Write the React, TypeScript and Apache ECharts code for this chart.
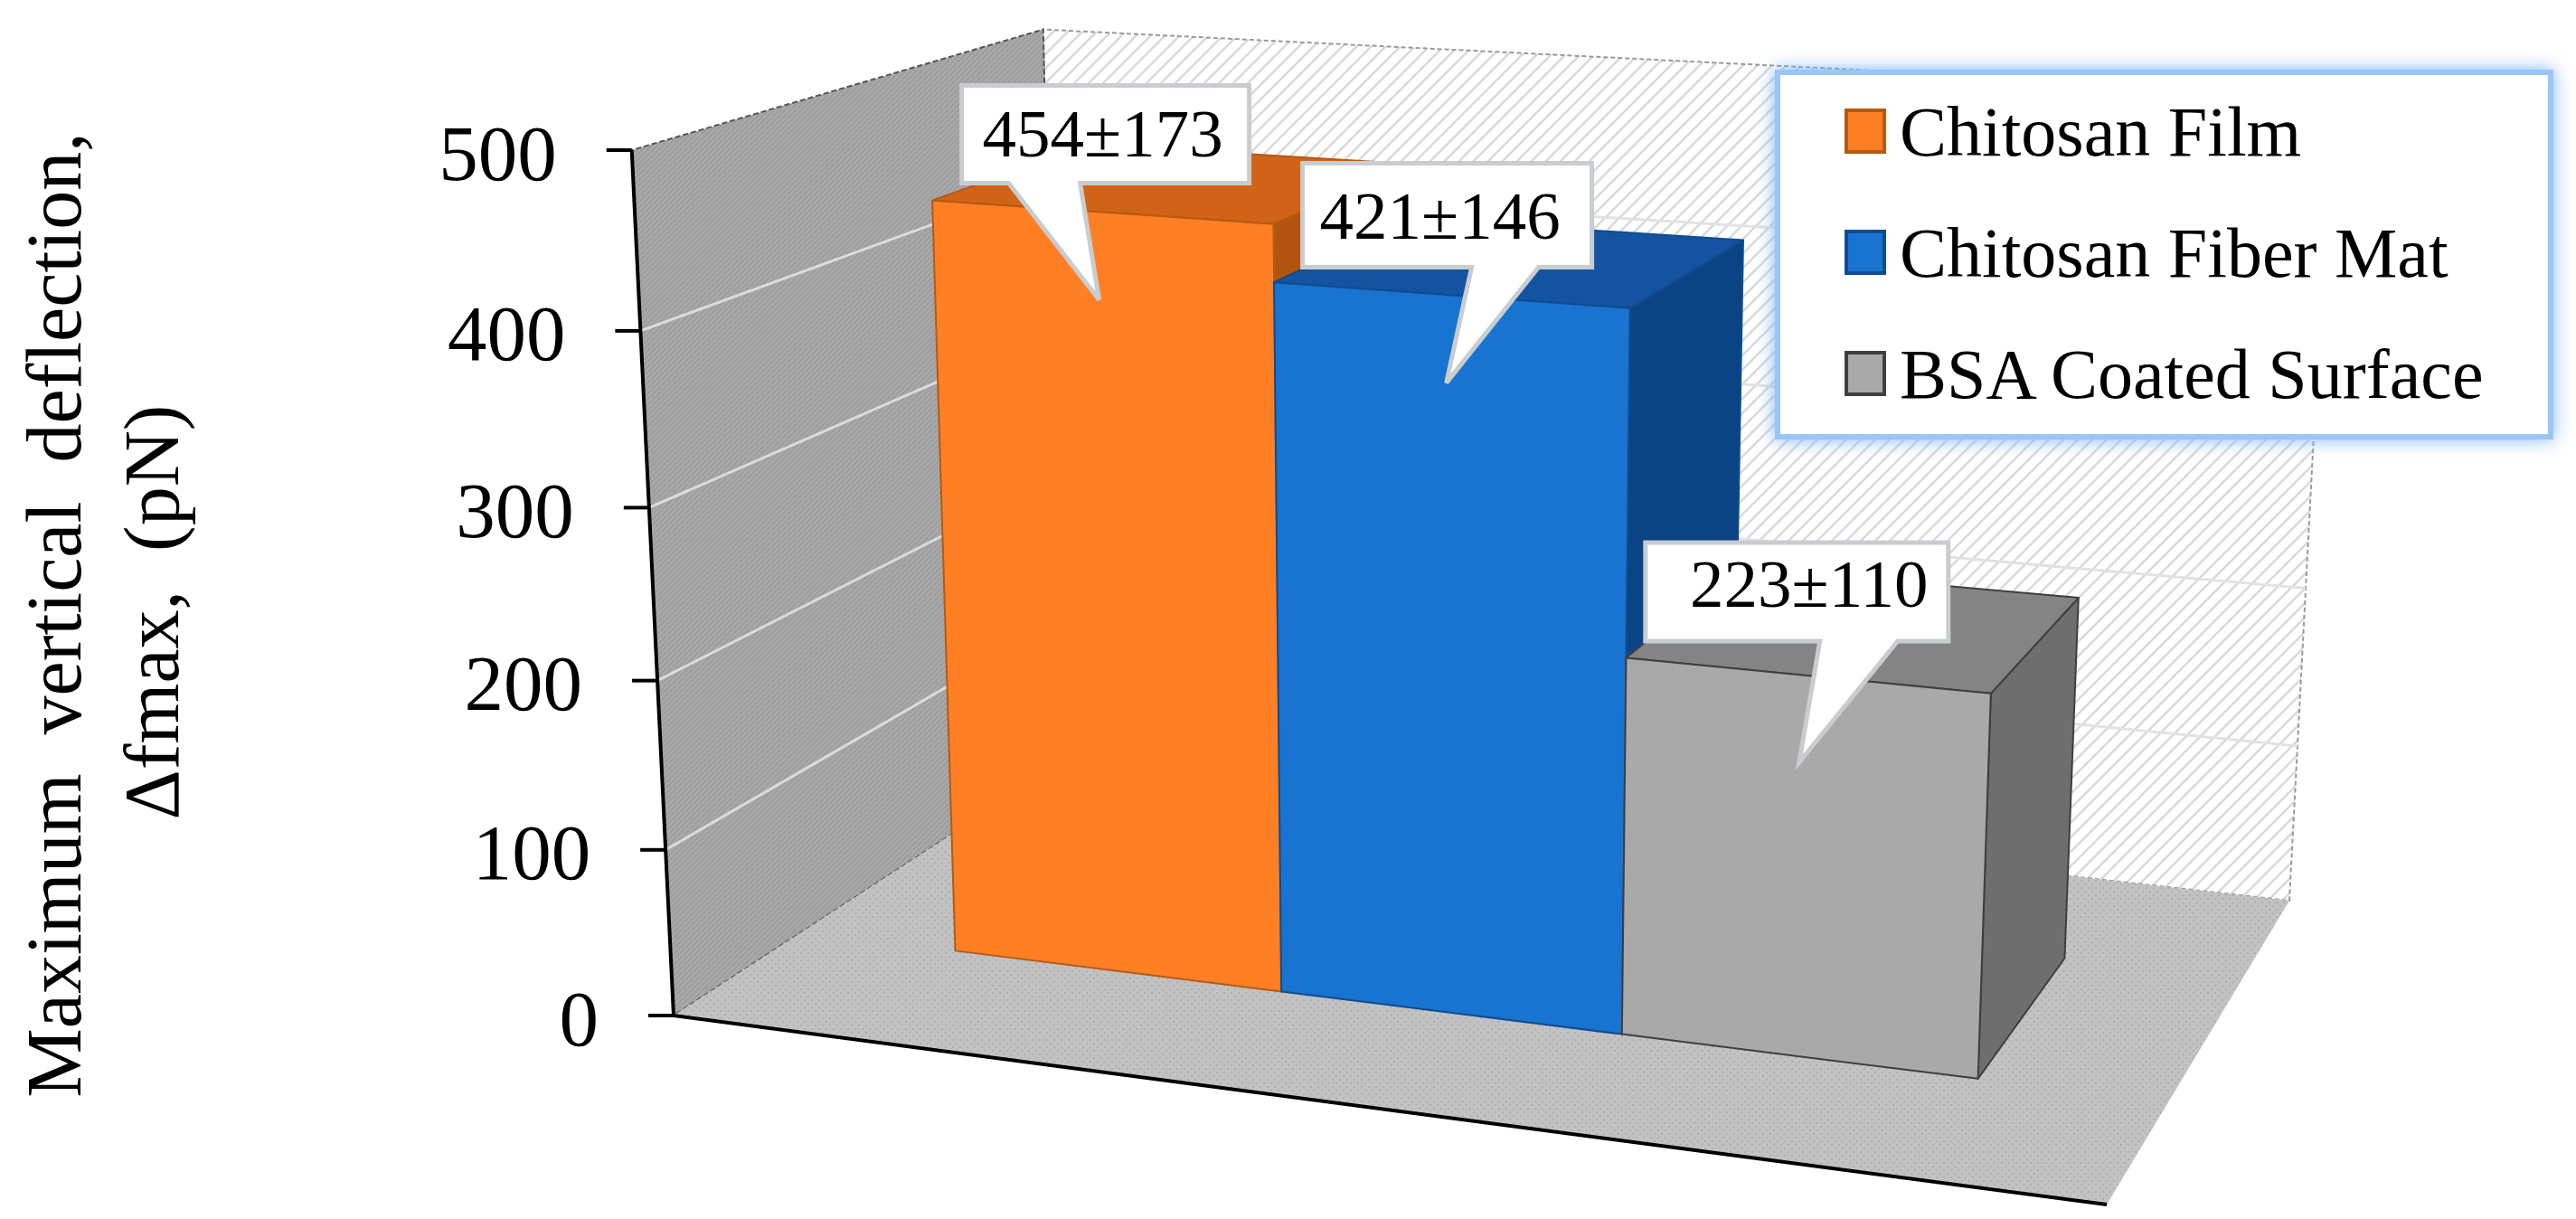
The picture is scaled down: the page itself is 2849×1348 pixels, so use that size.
import React, { useEffect, useRef } from "react";
import * as echarts from "echarts";

const seriesNames = ["Chitosan Film", "Chitosan Fiber Mat", "BSA Coated Surface"];
const meanValues = [454, 421, 223];
const errorValues = [173, 146, 110];
const yTicks = [0, 100, 200, 300, 400, 500];
const yTitleLines = ["Maximum\u00a0\u00a0vertical\u00a0\u00a0deflection,", "\u0394fmax,\u00a0\u00a0(pN)"];

const SERIF = "'Liberation Serif','Times New Roman',serif";
type P = [number, number];

// frame of the 3D box on the page (layout, not data)
const FLOOR: P[] = [[745, 1123], [2330, 1332], [2532, 996], [1173, 844]];
const FRONT_HEIGHT = 957;
const VANISH: P = [1600, 18800];
const DEPTH_FRONT = 0.297;
const DEPTH_BACK = 0.706;
const PERSP = 1.056;
const HEIGHT_TWEAK = 0.018;

function quad(c: P[]) {
  const [[x0, y0], [x1, y1], [x2, y2], [x3, y3]] = c;
  const dx1 = x1 - x2, dx2 = x3 - x2, sx = x0 - x1 + x2 - x3;
  const dy1 = y1 - y2, dy2 = y3 - y2, sy = y0 - y1 + y2 - y3;
  const det = dx1 * dy2 - dx2 * dy1;
  const g = (sx * dy2 - dx2 * sy) / det;
  const h = (dx1 * sy - sx * dy1) / det;
  const a = x1 - x0 + g * x1, b = x3 - x0 + h * x3;
  const d = y1 - y0 + g * y1, e = y3 - y0 + h * y3;
  return (u: number, w: number): [number, number, number] => {
    const q = g * u + h * w + 1;
    return [(a * u + b * w + x0) / q, (d * u + e * w + y0) / q, q];
  };
}
const floorAt = quad(FLOOR);
function project(u: number, v: number, w: number): P {
  const [fx, fy, q] = floorAt(u, w);
  const full = (FRONT_HEIGHT * (1 + HEIGHT_TWEAK * u * w)) / q;
  const t = v / (v + PERSP * (1 - v));
  const h = full * t;
  return [fx + ((fx - VANISH[0]) / (VANISH[1] - fy)) * h, fy - h];
}

function tile(size: number, draw: (c: CanvasRenderingContext2D) => void) {
  const cv = document.createElement("canvas");
  cv.width = size; cv.height = size;
  draw(cv.getContext("2d") as CanvasRenderingContext2D);
  return { image: cv, repeat: "repeat" } as any;
}

const barColors = [
  { front: "#ff7f24", top: "#d06318", side: "#b2540f", edge: "#b55a14" },
  { front: "#1874d0", top: "#14539f", side: "#0b4485", edge: "#0f4c91" },
  { front: "#a9a9a9", top: "#848484", side: "#6e6e6e", edge: "#3f3f3f" },
];

// callout layout, relative to the middle of the bar's front top edge
const calloutLayout = [
  { l: -154, r: 164, t: -140, b: -32, p0: -102, p1: -23, tx: 2, ty: -87, tipX: -2, tipY: 97 },
  { l: -163, r: 157, t: -146, b: -31, p0: 24, p1: 98, tx: -11, ty: -88, tipX: -4, tipY: 97 },
  { l: -178, r: 157, t: -147, b: -38, p0: 15, p1: 101, tx: 3, ty: -101, tipX: -8, tipY: 96 },
];

export default function App() {
  const ref = useRef<HTMLDivElement>(null);
  useEffect(() => {
    document.body.style.margin = "0";
    document.body.style.overflow = "hidden";
    const chart = echarts.init(ref.current as HTMLDivElement, undefined, { renderer: "svg" });

    const wallFill = tile(6, (c) => {
      c.fillStyle = "#a8a8a8"; c.fillRect(0, 0, 6, 6);
      c.strokeStyle = "#989898"; c.lineWidth = 1.2;
      c.beginPath(); c.moveTo(-1, 7); c.lineTo(7, -1); c.moveTo(-1, 1); c.lineTo(1, -1); c.moveTo(5, 7); c.lineTo(7, 5); c.stroke();
    });
    const floorFill = tile(8, (c) => {
      c.fillStyle = "#c2c2c2"; c.fillRect(0, 0, 8, 8);
      c.fillStyle = "#b0b0b0";
      c.fillRect(1, 1, 2, 2); c.fillRect(5, 5, 2, 2);
    });
    const backFill = tile(16, (c) => {
      c.fillStyle = "#ffffff"; c.fillRect(0, 0, 16, 16);
      c.strokeStyle = "#d8d8d8"; c.lineWidth = 2.4;
      c.beginPath(); c.moveTo(-2, 18); c.lineTo(18, -2); c.moveTo(-2, 2); c.lineTo(2, -2); c.moveTo(14, 18); c.lineTo(18, 14); c.stroke();
    });

    const unit = (api: any, params: any, x: number, y: number) => {
      const p = api.coord([x, y]);
      const cs = params.coordSys;
      return [(p[0] - cs.x) / cs.width, (cs.y + cs.height - p[1]) / cs.height];
    };

    const frameSeries = {
      type: "custom", name: "frame", coordinateSystem: "cartesian2d", silent: true, clip: false, z: 1,
      data: [[0, 0]],
      renderItem: () => ({
        type: "group",
        children: [
          { type: "polygon", shape: { points: [project(0, 0, 1), project(0, 1, 1), project(1, 1, 1), project(1, 0, 1)] }, style: { fill: backFill, stroke: "#9a9a9a", lineWidth: 2, lineDash: [5, 3] } },
          { type: "polygon", shape: { points: [project(0, 0, 0), project(0, 1, 0), project(0, 1, 1), project(0, 0, 1)] }, style: { fill: wallFill, stroke: "#555", lineWidth: 2, lineDash: [6, 3] } },
          { type: "polygon", shape: { points: [project(0, 0, 0), project(1, 0, 0), project(1, 0, 1), project(0, 0, 1)] }, style: { fill: floorFill } },
          { type: "line", shape: { x1: project(0, 0, 0)[0], y1: project(0, 0, 0)[1], x2: project(1, 0, 0)[0], y2: project(1, 0, 0)[1] }, style: { stroke: "#000", lineWidth: 4 } },
        ],
      }),
    };

    const tickSeries = {
      type: "custom", name: "ticks", coordinateSystem: "cartesian2d", silent: true, clip: false, z: 2,
      data: yTicks.map((t) => [0, t]),
      renderItem: (params: any, api: any) => {
        const val = api.value(1);
        const v = unit(api, params, 0, val)[1];
        const a = project(0, v, 0), b = project(0, v, 1), c = project(1, v, 1);
        const children: any[] = [];
        if (val > 0 && val < 500) {
          children.push({ type: "polyline", shape: { points: [a, b] }, style: { fill: "none", stroke: "#dcdcdc", lineWidth: 3 } });
          children.push({ type: "polyline", shape: { points: [b, c] }, style: { fill: "none", stroke: "#e2e2e2", lineWidth: 3 } });
        }
        children.push({ type: "line", shape: { x1: a[0] - 28, y1: a[1], x2: a[0], y2: a[1] }, style: { stroke: "#000", lineWidth: 4 } });
        children.push({
          type: "text", x: a[0] - 83, y: a[1] + 3,
          style: { text: String(val), font: `87px ${SERIF}`, fill: "#000", align: "right", verticalAlign: "middle", textAlign: "right", textVerticalAlign: "middle" },
        });
        return { type: "group", children };
      },
    };

    const axisSeries = {
      type: "custom", name: "axis", coordinateSystem: "cartesian2d", silent: true, clip: false, z: 3,
      data: [[0, 0, 500]],
      renderItem: (params: any, api: any) => {
        const a = project(0, unit(api, params, 0, api.value(1))[1], 0);
        const b = project(0, unit(api, params, 0, api.value(2))[1], 0);
        return { type: "line", shape: { x1: a[0], y1: a[1], x2: b[0], y2: b[1] }, style: { stroke: "#000", lineWidth: 4 } };
      },
    };

    const barSeries = seriesNames.map((name, i) => ({
      type: "custom", name, coordinateSystem: "cartesian2d", silent: true, clip: false, z: 4 + i * 0.01,
      itemStyle: { color: barColors[i].front, borderColor: barColors[i].edge },
      data: [[i, meanValues[i]]],
      renderItem: (params: any, api: any) => {
        const idx = api.value(0), val = api.value(1);
        const [u0, v] = unit(api, params, idx - 0.5, val);
        const [u1] = unit(api, params, idx + 0.5, val);
        const c = barColors[i];
        const w0 = DEPTH_FRONT, w1 = DEPTH_BACK;
        const poly = (points: P[], fill: string) => ({
          type: "polygon", shape: { points },
          style: { fill, stroke: c.edge, lineWidth: 2, lineJoin: "round" },
        });
        return {
          type: "group",
          children: [
            poly([project(u1, 0, w0), project(u1, v, w0), project(u1, v, w1), project(u1, 0, w1)], c.side),
            poly([project(u0, v, w0), project(u1, v, w0), project(u1, v, w1), project(u0, v, w1)], c.top),
            poly([project(u0, 0, w0), project(u1, 0, w0), project(u1, v, w0), project(u0, v, w0)], c.front),
          ],
        };
      },
    }));

    const calloutSeries = {
      type: "custom", name: "callouts", coordinateSystem: "cartesian2d", silent: true, clip: false, z: 6,
      data: meanValues.map((m, i) => [i, m, errorValues[i]]),
      renderItem: (params: any, api: any) => {
        const idx = api.value(0), val = api.value(1), err = api.value(2);
        const [u0, v] = unit(api, params, idx - 0.5, val);
        const [u1] = unit(api, params, idx + 0.5, val);
        const [ax, ay] = project((u0 + u1) / 2, v, DEPTH_FRONT);
        const L = calloutLayout[params.dataIndex];
        const points: P[] = [
          [ax + L.l, ay + L.t], [ax + L.r, ay + L.t], [ax + L.r, ay + L.b],
          [ax + L.p1, ay + L.b], [ax + L.tipX, ay + L.tipY], [ax + L.p0, ay + L.b], [ax + L.l, ay + L.b],
        ];
        return {
          type: "group",
          children: [
            { type: "polygon", shape: { points }, style: { fill: "#fff", stroke: "#c8cdd0", lineWidth: 5 } },
            {
              type: "text", x: ax + L.tx, y: ay + L.ty,
              style: { text: `${val}\u00b1${err}`, font: `75px ${SERIF}`, fill: "#000", align: "center", verticalAlign: "middle", textAlign: "center", textVerticalAlign: "middle" },
            },
          ],
        };
      },
    };

    chart.setOption({
      animation: false,
      backgroundColor: "#ffffff",
      grid: { left: 0, top: 0, width: 2849, height: 1348, show: false, containLabel: false },
      xAxis: { type: "value", min: -0.984, max: 3.016, show: false, splitLine: { show: false } },
      yAxis: { type: "value", min: 0, max: 500, interval: 100, show: false, splitLine: { show: false } },
      legend: {
        show: true, orient: "vertical", left: 1966, top: 80, selectedMode: false, z: 5,
        padding: [26, 70, 31, 74], itemGap: 56, itemWidth: 42, itemHeight: 46, icon: "rect",
        backgroundColor: "#ffffff", borderColor: "#9ac5f8", borderWidth: 6,
        shadowColor: "#7db3f6", shadowBlur: 20,
        textStyle: { fontFamily: SERIF, fontSize: 78, color: "#000", padding: [0, 0, 0, 12] },
        data: seriesNames.map((name, i) => ({
          name, icon: "rect",
          itemStyle: { color: barColors[i].front, borderColor: barColors[i].edge, borderWidth: 4 },
        })),
      },
      graphic: [
        { type: "text", x: 60, y: 680, rotation: Math.PI / 2, silent: true, style: { text: yTitleLines[0], font: `86px ${SERIF}`, fill: "#000", align: "center", verticalAlign: "middle", textAlign: "center", textVerticalAlign: "middle" } },
        { type: "text", x: 168, y: 677, rotation: Math.PI / 2, silent: true, style: { text: yTitleLines[1], font: `86px ${SERIF}`, fill: "#000", align: "center", verticalAlign: "middle", textAlign: "center", textVerticalAlign: "middle" } },
      ],
      series: [frameSeries, tickSeries, axisSeries, ...barSeries, calloutSeries],
    });
    return () => chart.dispose();
  }, []);
  return <div ref={ref} style={{ position: "absolute", left: 0, top: 0, width: 2849, height: 1348 }} />;
}
